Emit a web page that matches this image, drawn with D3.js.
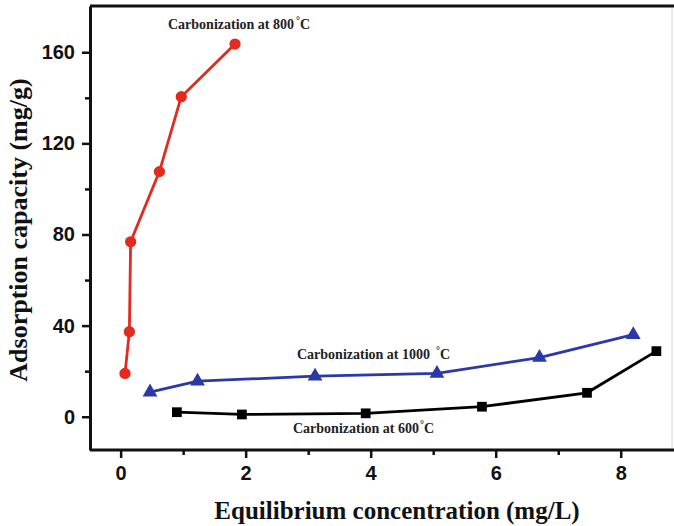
<!DOCTYPE html>
<html>
<head>
<meta charset="utf-8">
<script src="https://cdn.jsdelivr.net/npm/d3@7"></script>
<style>
  body { margin: 0; background: #fff; }
  svg { display: block; }
</style>
</head>
<body>
<div id="canvas"></div>
<script>
// values
const c800x = [0.07, 0.14, 0.16, 0.62, 0.97, 1.83];
const c800y = [19.0, 37.3, 76.8, 107.6, 140.5, 163.6];
const c1000x = [0.47, 1.23, 3.11, 5.06, 6.70, 8.20];
const c1000y = [10.8, 15.6, 17.8, 19.0, 26.0, 36.0];
const c600x = [0.90, 1.94, 3.92, 5.78, 7.46, 8.57];
const c600y = [2.0, 1.0, 1.5, 4.4, 10.5, 28.8];
const xTicks = [0, 2, 4, 6, 8];
const xMinor = [1, 3, 5, 7, 9];
const yTicks = [0, 40, 80, 120, 160];
const yMinor = [20, 60, 100, 140];

const width = 674;
const height = 526;
const margin = { top: 6, left: 90, bottom: 76, right: 2 };

const svg = d3.select("#canvas").append("svg")
    .attr("width", width)
    .attr("height", height);

const x = d3.scaleLinear()
    .domain([-0.49, 8.82])
    .range([margin.left, width - margin.right]);

const y = d3.scaleLinear()
    .domain([-14.6, 180.3])
    .range([height - margin.bottom, margin.top]);

const bottom = height - margin.bottom;

// frame: faint right edge, thick top
svg.append("line")
    .attr("x1", x.range()[1]).attr("x2", x.range()[1])
    .attr("y1", margin.top).attr("y2", bottom)
    .attr("stroke", "#d8d8d8").attr("stroke-width", 1);
svg.append("line")
    .attr("x1", margin.left).attr("x2", width)
    .attr("y1", margin.top).attr("y2", margin.top)
    .attr("stroke", "#111").attr("stroke-width", 3);

// minor ticks first
const xAxisMinor = d3.axisBottom(x).tickValues(xMinor).tickSize(5).tickFormat("");
const yAxisMinor = d3.axisLeft(y).tickValues(yMinor).tickSize(5).tickFormat("");

svg.append("g")
    .attr("transform", `translate(0,${bottom})`)
    .call(xAxisMinor)
    .call(g => g.select(".domain").remove())
    .call(g => g.selectAll("line").attr("stroke", "#111").attr("stroke-width", 2.5));

svg.append("g")
    .attr("transform", `translate(${margin.left},0)`)
    .call(yAxisMinor)
    .call(g => g.select(".domain").remove())
    .call(g => g.selectAll("line").attr("stroke", "#111").attr("stroke-width", 2.5));

// major axes
const tickFont = g => g.selectAll("text")
    .attr("fill", "#111")
    .style("font-family", "'Liberation Sans', Arial, sans-serif")
    .style("font-weight", "bold")
    .style("font-size", "20px");

const gx = svg.append("g")
    .attr("transform", `translate(0,${bottom})`)
    .call(d3.axisBottom(x).tickValues(xTicks).tickSize(8).tickPadding(8).tickSizeOuter(0));
gx.select(".domain").attr("stroke", "#111").attr("stroke-width", 3)
    .attr("d", `M${margin.left},0H${width}`);
gx.selectAll("line").attr("stroke", "#111").attr("stroke-width", 2.5);
gx.call(tickFont);

const gy = svg.append("g")
    .attr("transform", `translate(${margin.left},0)`)
    .call(d3.axisLeft(y).tickValues(yTicks).tickSize(8).tickPadding(7).tickSizeOuter(0));
gy.select(".domain").attr("stroke", "#111").attr("stroke-width", 3);
gy.selectAll("line").attr("stroke", "#111").attr("stroke-width", 2.5);
gy.call(tickFont);

// axis titles
svg.append("text")
    .attr("x", 397)
    .attr("y", 519)
    .attr("text-anchor", "middle")
    .style("font-family", "'Liberation Serif', 'Times New Roman', serif")
    .style("font-weight", "bold")
    .style("font-size", "25px")
    .attr("fill", "#111")
    .text("Equilibrium concentration (mg/L)");

svg.append("text")
    .attr("transform", "translate(27,230) rotate(-90)")
    .attr("text-anchor", "middle")
    .style("font-family", "'Liberation Serif', 'Times New Roman', serif")
    .style("font-weight", "bold")
    .style("font-size", "26px")
    .attr("fill", "#111")
    .text("Adsorption capacity (mg/g)");

// series
const series = [
    { xs: c600x, ys: c600y, color: "#000000", shape: d3.symbolSquare, size: 95 },
    { xs: c1000x, ys: c1000y, color: "#2b38a8", shape: d3.symbolTriangle, size: 95 },
    { xs: c800x, ys: c800y, color: "#e42a20", shape: d3.symbolCircle, size: 100 }
];

const line = d3.line().x(d => x(d[0])).y(d => y(d[1]));

series.forEach(s => {
    const pts = s.xs.map((v, i) => [v, s.ys[i]]);
    svg.append("path")
        .datum(pts)
        .attr("fill", "none")
        .attr("stroke", s.color)
        .attr("stroke-width", 2.8)
        .attr("d", line);
    svg.selectAll(null)
        .data(pts)
        .enter().append("path")
        .attr("transform", d => `translate(${x(d[0])},${y(d[1])})`)
        .attr("d", d3.symbol().type(s.shape).size(s.size))
        .attr("fill", s.color);
});

// annotations
function label(px, py, main, gap) {
    const t = svg.append("text")
        .attr("x", px)
        .attr("y", py)
        .style("font-family", "'Liberation Serif', 'Times New Roman', serif")
        .style("font-weight", "bold")
        .style("font-size", "14px")
        .attr("fill", "#222");
    t.append("tspan").text(main);
    t.append("tspan").attr("dx", gap).attr("dy", -5).style("font-size", "10px").text("°");
    t.append("tspan").attr("dy", 5).text("C");
}
label(168, 29, "Carbonization at 800", 2);
label(297, 359, "Carbonization at 1000", 6);
label(293, 433, "Carbonization at 600", 1);
</script>
</body>
</html>
